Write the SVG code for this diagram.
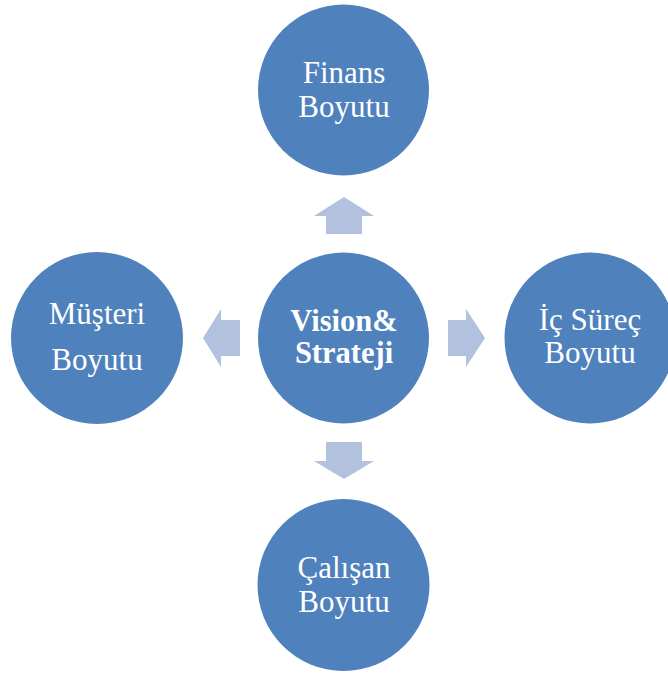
<svg xmlns="http://www.w3.org/2000/svg" width="668" height="675" viewBox="0 0 668 675">
<style>
.node{fill:#4F81BD}
.arrow{fill:#B2C2DE}
text{font-family:"Liberation Serif","Times New Roman",serif;fill:#FFFFFF;font-size:31px;text-anchor:middle}
.bold{font-weight:bold;font-size:30.5px}
</style>
<rect width="668" height="675" fill="#FFFFFF"/>
<g id="connectors">
<polygon class="arrow" points="326,234 326,216 314,216 344,197 374,216 362,216 362,234"/>
<polygon class="arrow" points="326,442 326,461 314,461 344,479 374,461 362,461 362,442"/>
<polygon class="arrow" points="240,320 221,320 221,309 203,338 221,367 221,356 240,356"/>
<polygon class="arrow" points="448,320 466,320 466,309 485,338 466,367 466,356 448,356"/>
</g>
<g id="center">
<circle class="node" cx="343.5" cy="338" r="85.5"/>
<text class="bold" x="344" y="331">Vision&amp;</text>
<text class="bold" x="344" y="363">Strateji</text>
</g>
<g id="finans">
<circle class="node" cx="343.5" cy="90" r="85.5"/>
<text x="344" y="83">Finans</text>
<text x="344" y="117">Boyutu</text>
</g>
<g id="musteri">
<circle class="node" cx="97" cy="338" r="86"/>
<text x="97" y="324">Müşteri</text>
<text x="97" y="370">Boyutu</text>
</g>
<g id="icsurec">
<circle class="node" cx="590" cy="338" r="85.5"/>
<text x="590" y="330">İç Süreç</text>
<text x="590" y="363">Boyutu</text>
</g>
<g id="calisan">
<circle class="node" cx="343.5" cy="585" r="86"/>
<text x="344" y="578">Çalışan</text>
<text x="344" y="612">Boyutu</text>
</g>
</svg>
